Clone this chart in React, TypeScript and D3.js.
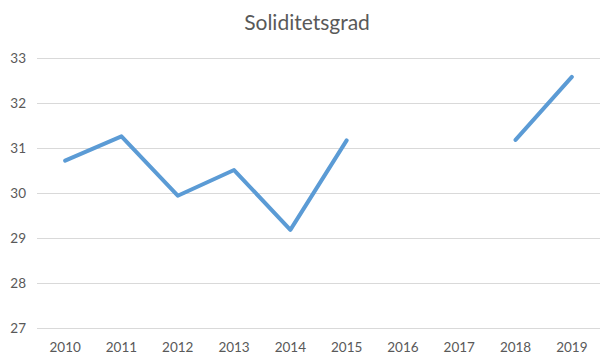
import React, { useEffect, useRef } from 'react';
import * as d3 from 'd3';

const years = ['2010', '2011', '2012', '2013', '2014', '2015', '2016', '2017', '2018', '2019'];
const soliditet: (number | null)[] = [30.72, 31.26, 29.94, 30.51, 29.18, 31.17, null, null, 31.18, 32.58];
const yTicks = [27, 28, 29, 30, 31, 32, 33];

export default function App() {
  const svgRef = useRef<SVGSVGElement>(null);

  useEffect(() => {
    if (!svgRef.current) return;
    const width = 616;
    const height = 364;
    const margin = { top: 58, right: 16, bottom: 36, left: 37 };

    const svg = d3.select(svgRef.current)
      .attr('width', width)
      .attr('height', height);
    svg.selectAll('*').remove();

    const font = 'Lato, "Open Sans", sans-serif';

    svg.append('rect').attr('width', width).attr('height', height).attr('fill', '#fff');

    const x = d3.scaleBand()
      .domain(years)
      .range([margin.left, width - margin.right]);

    const y = d3.scaleLinear()
      .domain([27, 33])
      .range([height - margin.bottom, margin.top]);

    // gridlines
    svg.append('g')
      .selectAll('line')
      .data(yTicks)
      .join('line')
      .attr('x1', margin.left)
      .attr('x2', width - margin.right)
      .attr('y1', d => Math.round(y(d)) + 0.5)
      .attr('y2', d => Math.round(y(d)) + 0.5)
      .attr('stroke', '#d9d9d9')
      .attr('stroke-width', 1);

    // y labels
    svg.append('g')
      .selectAll('text')
      .data(yTicks)
      .join('text')
      .attr('x', 26)
      .attr('y', d => y(d))
      .attr('dy', '0.35em')
      .attr('text-anchor', 'end')
      .style('font-family', font)
      .style('font-size', '13.5px')
      .attr('fill', '#595959')
      .text(d => d);

    // x labels
    svg.append('g')
      .selectAll('text')
      .data(years)
      .join('text')
      .attr('x', d => x(d)! + x.bandwidth() / 2)
      .attr('y', 352)
      .attr('text-anchor', 'middle')
      .style('font-family', font)
      .style('font-size', '13.5px')
      .attr('fill', '#595959')
      .text(d => d);

    const line = d3.line<number | null>()
      .defined(d => d !== null)
      .x((d, i) => x(years[i])! + x.bandwidth() / 2)
      .y(d => y(d as number));

    svg.append('path')
      .datum(soliditet)
      .attr('d', line)
      .attr('fill', 'none')
      .attr('stroke', '#5b9bd5')
      .attr('stroke-width', 4)
      .attr('stroke-linejoin', 'round')
      .attr('stroke-linecap', 'round');

    svg.append('text')
      .attr('x', 307)
      .attr('y', 30)
      .attr('text-anchor', 'middle')
      .style('font-family', font)
      .style('font-size', '21px')
      .attr('fill', '#595959')
      .text('Soliditetsgrad');
  }, []);

  return (
    <div style={{ margin: -8 }}>
      <svg ref={svgRef} style={{ display: 'block' }} />
    </div>
  );
}
